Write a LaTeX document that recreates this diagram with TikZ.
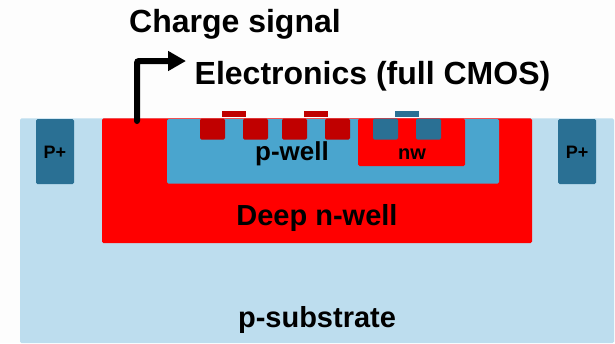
\documentclass[tikz,border=0pt]{standalone}
\usepackage{fontspec}
\setmainfont{Liberation Sans}
\usetikzlibrary{arrows.meta}
\definecolor{subst}{HTML}{BDDDEE}
\definecolor{pwellc}{HTML}{4AA5CE}
\definecolor{pplus}{HTML}{2A7094}
\definecolor{nplus}{HTML}{C00000}
\definecolor{paper}{HTML}{FDFDFD}
\tikzset{
  well/.style={rounded corners=1.5pt},
  lab/.style={font=\bfseries\fontsize{#1}{#1}\selectfont,inner sep=0pt,text=black},
}
\begin{document}
\begin{tikzpicture}[x=1pt,y=-1pt]
\useasboundingbox (0,0) rectangle (615,343);
\fill[paper] (0,0) rectangle (615,343);
\fill[subst,well] (20,118.4) -- (614,118.4) -- (614,343) -- (20,343) -- cycle;
\foreach \x in {36,558}
  \fill[pplus,well] (\x,119) rectangle ++(38,65);
\fill[red,well] (102,118.4) rectangle (532,243);
\fill[pwellc,well] (167,119) rectangle (499,183.5);
\fill[red,well] (358,118.6) rectangle (465,166);
\foreach \x in {200,243,282,325}
  \fill[nplus,well] (\x,118.6) rectangle ++(25,21);
\foreach \x in {373,416}
  \fill[pplus,well] (\x,118.6) rectangle ++(25,21);
\foreach \x in {222,304}
  \fill[nplus] (\x,111) rectangle ++(24,6);
\fill[pplus] (395,111) rectangle ++(24,6);
\coordinate (pad) at (137,121);
\coordinate (out) at (186,61);
\draw[line width=6pt,line cap=round,rounded corners=2pt,-{Triangle[length=18pt,width=19pt]}] (pad) |- (out);
\node[lab=32] (charge) at (235,24) {Charge signal};
\node[lab=32] (elec) at (372.5,76) {Electronics (full CMOS)};
\node[lab=26] (pw) at (292,154) {p-well};
\node[lab=20] (nw) at (412,154) {nw};
\node[lab=29] (dnw) at (317,218) {Deep n-well};
\node[lab=29] (psub) at (317,320) {p-substrate};
\node[lab=18] (pl) at (55,152) {P+};
\node[lab=18] (pr) at (577,152) {P+};
\end{tikzpicture}
\end{document}
